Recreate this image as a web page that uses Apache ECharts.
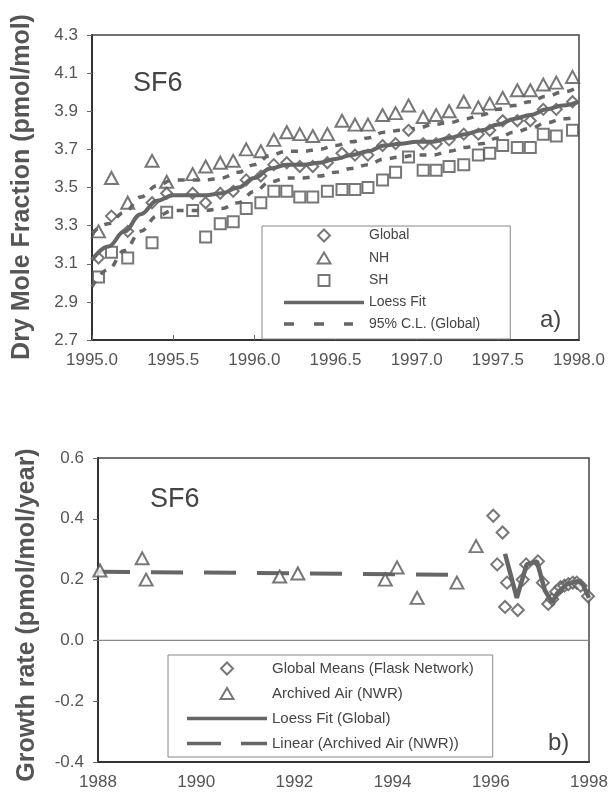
<!DOCTYPE html>
<html><head><meta charset="utf-8">
<script src="https://cdn.jsdelivr.net/npm/echarts@6/dist/echarts.min.js"></script>
<style>html,body{margin:0;padding:0;background:#fff}#c{width:614px;height:801px}</style>
</head><body><div id="c"></div>
<script>
// ---------- Panel a) SF6 dry mole fraction ----------
const monthsA = [1995.04, 1995.12, 1995.22, 1995.37, 1995.46, 1995.62, 1995.70, 1995.79, 1995.87, 1995.95,
  1996.04, 1996.12, 1996.20, 1996.28, 1996.36, 1996.45, 1996.54, 1996.62, 1996.70, 1996.79,
  1996.87, 1996.95, 1997.04, 1997.12, 1997.20, 1997.29, 1997.38, 1997.45, 1997.53, 1997.62,
  1997.70, 1997.78, 1997.86, 1997.96];
const globalA = [3.13, 3.35, 3.27, 3.42, 3.47, 3.47, 3.42, 3.47, 3.48, 3.54,
  3.56, 3.62, 3.63, 3.61, 3.61, 3.63, 3.68, 3.67, 3.67, 3.72,
  3.73, 3.80, 3.73, 3.73, 3.75, 3.78, 3.78, 3.80, 3.85, 3.85,
  3.85, 3.91, 3.91, 3.95];
const nhA = [3.27, 3.55, 3.42, 3.64, 3.53, 3.57, 3.61, 3.63, 3.64, 3.70,
  3.69, 3.75, 3.79, 3.78, 3.77, 3.78, 3.85, 3.83, 3.83, 3.88,
  3.89, 3.93, 3.87, 3.88, 3.90, 3.95, 3.92, 3.94, 3.97, 4.01,
  4.01, 4.04, 4.05, 4.08];
const shA = [3.03, 3.16, 3.13, 3.21, 3.37, 3.38, 3.24, 3.31, 3.32, 3.39,
  3.42, 3.48, 3.48, 3.45, 3.45, 3.48, 3.49, 3.49, 3.50, 3.54,
  3.58, 3.66, 3.59, 3.59, 3.61, 3.62, 3.67, 3.68, 3.72, 3.71,
  3.71, 3.78, 3.77, 3.80];
const loessTA = [1995.0, 1995.1, 1995.2, 1995.3, 1995.4, 1995.5, 1995.6, 1995.7, 1995.8, 1995.9,
  1996.0, 1996.1, 1996.2, 1996.3, 1996.4, 1996.5, 1996.6, 1996.7, 1996.8, 1996.9,
  1997.0, 1997.1, 1997.2, 1997.3, 1997.4, 1997.5, 1997.6, 1997.7, 1997.8, 1997.9, 1998.0];
const loessA = [3.12, 3.19, 3.27, 3.36, 3.43, 3.46, 3.46, 3.46, 3.47, 3.50,
  3.55, 3.60, 3.62, 3.62, 3.63, 3.65, 3.67, 3.69, 3.72, 3.73,
  3.74, 3.74, 3.76, 3.78, 3.80, 3.83, 3.86, 3.88, 3.91, 3.93, 3.95];
const clUpperA = [3.26, 3.31, 3.37, 3.45, 3.51, 3.54, 3.54, 3.54, 3.55, 3.58,
  3.62, 3.67, 3.69, 3.69, 3.70, 3.72, 3.74, 3.76, 3.79, 3.80,
  3.81, 3.83, 3.84, 3.86, 3.88, 3.91, 3.93, 3.95, 3.98, 4.00, 4.03];
const clLowerA = [2.98, 3.07, 3.17, 3.27, 3.35, 3.38, 3.38, 3.38, 3.39, 3.42,
  3.48, 3.53, 3.55, 3.55, 3.56, 3.58, 3.60, 3.62, 3.65, 3.66,
  3.67, 3.67, 3.69, 3.71, 3.73, 3.76, 3.79, 3.81, 3.84, 3.86, 3.87];
const yTicksA = [2.7, 2.9, 3.1, 3.3, 3.5, 3.7, 3.9, 4.1, 4.3];

// ---------- Panel b) SF6 growth rate ----------
const archT = [1988.04, 1988.90, 1988.98, 1991.70, 1992.07, 1993.85, 1994.09, 1994.50, 1995.31, 1995.70];
const archV = [0.23, 0.27, 0.20, 0.21, 0.22, 0.20, 0.24, 0.14, 0.19, 0.31];
const linearT = [1988.0, 1995.3];
const linearV = [0.226, 0.216];
const flaskT = [1996.05, 1996.13, 1996.24, 1996.29, 1996.33, 1996.55, 1996.65, 1996.72, 1996.96, 1997.06,
  1997.17, 1997.25, 1997.33, 1997.42, 1997.50, 1997.58, 1997.67, 1997.75, 1997.83, 1997.98];
const flaskV = [0.41, 0.25, 0.355, 0.11, 0.19, 0.10, 0.20, 0.25, 0.26, 0.19,
  0.12, 0.135, 0.16, 0.175, 0.18, 0.185, 0.19, 0.19, 0.18, 0.145];
const loessTB = [1996.29, 1996.53, 1996.73, 1996.94, 1997.10, 1997.25, 1997.35, 1997.55, 1997.77, 1997.87, 1998.0];
const loessB = [0.285, 0.14, 0.25, 0.26, 0.165, 0.125, 0.155, 0.185, 0.195, 0.185, 0.14];
const zeroLineT = [1988, 1998];
const zeroLineV = [0, 0];

const pair = (t, v) => t.map((x, i) => [x, v[i]]);
const FONT = 'Liberation Sans';
const INK = '#555';
const LINE = '#666';
const hollow = { color: '#fff', borderColor: INK, borderWidth: 2 };

// legend icons drawn in an 80 x 13 box (invisible move-to corners fix the box)
const BOX = 'M0,0M80,13';
const ICON = {
  diamond: 'path://' + BOX + 'M40,0.5L46,6.5L40,12.5L34,6.5Z',
  triangle: 'path://' + BOX + 'M40,1L46.5,12L33.5,12Z',
  square: 'path://' + BOX + 'M34.5,1L45.5,1L45.5,12L34.5,12Z',
  solid: 'path://' + BOX + 'M0,4.7L80,4.7L80,8.3L0,8.3Z',
  shortDash: 'path://' + BOX + 'M0,4.7L10,4.7L10,8.3L0,8.3ZM30,4.7L40,4.7L40,8.3L30,8.3ZM60,4.7L69,4.7L69,8.3L60,8.3Z',
  longDash: 'path://' + BOX + 'M0,4.7L34,4.7L34,8.3L0,8.3ZM54,4.7L80,4.7L80,8.3L54,8.3Z'
};
const hollowIcon = { color: '#fff', borderColor: INK, borderWidth: 2 };
const solidIcon = { color: LINE, borderWidth: 0 };

const chart = echarts.init(document.getElementById('c'), null, { renderer: 'canvas' });
const option = {
  animation: false,
  backgroundColor: '#fff',
  textStyle: { fontFamily: FONT },
  grid: [
    { left: 92, top: 35, width: 487, height: 305, show: true, borderColor: '#444', borderWidth: 1.5 },
    { left: 98, top: 458, width: 491, height: 304, show: true, borderColor: '#444', borderWidth: 1.5 }
  ],
  xAxis: [
    { gridIndex: 0, type: 'value', min: 1995, max: 1998, interval: 0.5, position: 'bottom',
      axisLine: { show: true, onZero: false, lineStyle: { color: '#333', width: 2 } },
      axisTick: { show: true, inside: true, length: 5, lineStyle: { color: '#666' } },
      axisLabel: { formatter: v => v.toFixed(1), color: INK, fontSize: 17, margin: 12, fontFamily: FONT },
      splitLine: { show: false } },
    { gridIndex: 1, type: 'value', min: 1988, max: 1998, interval: 2, position: 'bottom',
      axisLine: { show: true, onZero: false, lineStyle: { color: '#333', width: 2 } },
      axisTick: { show: false },
      axisLabel: { formatter: v => String(Math.round(v)), color: INK, fontSize: 17, margin: 12, fontFamily: FONT },
      splitLine: { show: false } }
  ],
  yAxis: [
    { gridIndex: 0, type: 'value', min: 2.7, max: 4.3,
      axisLine: { show: true, lineStyle: { color: '#333', width: 2 } },
      axisTick: { show: true, length: 5, customValues: yTicksA, lineStyle: { color: '#666' } },
      axisLabel: { customValues: yTicksA, formatter: v => v.toFixed(1), color: INK, fontSize: 17, margin: 14, fontFamily: FONT },
      splitLine: { show: false } },
    { gridIndex: 1, type: 'value', min: -0.4, max: 0.6, interval: 0.2,
      axisLine: { show: true, lineStyle: { color: '#333', width: 2 } },
      axisTick: { show: true, length: 5, lineStyle: { color: '#666' } },
      axisLabel: { formatter: v => (Math.abs(v) < 1e-9 ? 0 : v).toFixed(1), color: INK, fontSize: 17, margin: 14, fontFamily: FONT },
      splitLine: { show: false } }
  ],
  legend: [
    { left: 262, top: 226, orient: 'vertical', padding: [2, 30, 8, 21],
      itemWidth: 80, itemHeight: 13, itemGap: 7.5, borderColor: '#888', borderWidth: 1,
      backgroundColor: '#fff',
      textStyle: { fontSize: 14, color: '#444', fontFamily: FONT },
      data: [
        { name: 'Global', icon: ICON.diamond, itemStyle: hollowIcon },
        { name: 'NH', icon: ICON.triangle, itemStyle: hollowIcon },
        { name: 'SH', icon: ICON.square, itemStyle: hollowIcon },
        { name: 'Loess Fit', icon: ICON.solid, itemStyle: solidIcon },
        { name: '95% C.L. (Global)', icon: ICON.shortDash, itemStyle: solidIcon }
      ] },
    { left: 168, top: 655, orient: 'vertical', padding: [6, 19, 6, 18],
      itemWidth: 80, itemHeight: 13, itemGap: 10, borderColor: '#888', borderWidth: 1,
      backgroundColor: '#fff',
      textStyle: { fontSize: 15, color: '#444', fontFamily: FONT },
      data: [
        { name: 'Global Means (Flask Network)', icon: ICON.diamond, itemStyle: hollowIcon },
        { name: 'Archived Air (NWR)', icon: ICON.triangle, itemStyle: hollowIcon },
        { name: 'Loess Fit (Global)', icon: ICON.solid, itemStyle: solidIcon },
        { name: 'Linear (Archived Air (NWR))', icon: ICON.longDash, itemStyle: solidIcon }
      ] }
  ],
  series: [
    { name: 'NH', type: 'scatter', xAxisIndex: 0, yAxisIndex: 0, symbol: 'triangle', symbolSize: [13, 12],
      itemStyle: hollow, data: pair(monthsA, nhA), z: 3 },
    { name: 'SH', type: 'scatter', xAxisIndex: 0, yAxisIndex: 0, symbol: 'rect', symbolSize: 11,
      itemStyle: hollow, data: pair(monthsA, shA), z: 3 },
    { name: '95% C.L. (Global)', type: 'line', xAxisIndex: 0, yAxisIndex: 0, symbol: 'none', smooth: 0.4, smoothMonotone: 'x',
      itemStyle: { color: LINE }, lineStyle: { color: LINE, width: 3.5, type: [7, 8] }, data: pair(loessTA, clUpperA), z: 4 },
    { name: '95% C.L. (Global)', type: 'line', xAxisIndex: 0, yAxisIndex: 0, symbol: 'none', smooth: 0.4, smoothMonotone: 'x',
      itemStyle: { color: LINE }, lineStyle: { color: LINE, width: 3.5, type: [7, 8] }, data: pair(loessTA, clLowerA), z: 4 },
    { name: 'Global', type: 'scatter', xAxisIndex: 0, yAxisIndex: 0, symbol: 'diamond', symbolSize: 11,
      itemStyle: hollow, data: pair(monthsA, globalA), z: 5 },
    { name: 'Loess Fit', type: 'line', xAxisIndex: 0, yAxisIndex: 0, symbol: 'none', smooth: 0.4, smoothMonotone: 'x',
      itemStyle: { color: LINE }, lineStyle: { color: LINE, width: 4 }, data: pair(loessTA, loessA), z: 6 },

    { name: 'zero', type: 'line', xAxisIndex: 1, yAxisIndex: 1, symbol: 'none', silent: true,
      itemStyle: { color: '#888' }, lineStyle: { color: '#888', width: 1.2 }, data: pair(zeroLineT, zeroLineV), z: 2 },
    { name: 'Linear (Archived Air (NWR))', type: 'line', xAxisIndex: 1, yAxisIndex: 1, symbol: 'none',
      itemStyle: { color: LINE }, lineStyle: { color: LINE, width: 4, type: [32, 21] }, data: pair(linearT, linearV), z: 3 },
    { name: 'Archived Air (NWR)', type: 'scatter', xAxisIndex: 1, yAxisIndex: 1, symbol: 'triangle', symbolSize: [13, 12],
      itemStyle: hollow, data: pair(archT, archV), z: 4 },
    { name: 'Global Means (Flask Network)', type: 'scatter', xAxisIndex: 1, yAxisIndex: 1, symbol: 'diamond', symbolSize: 12,
      itemStyle: hollow, data: pair(flaskT, flaskV), z: 4 },
    { name: 'Loess Fit (Global)', type: 'line', xAxisIndex: 1, yAxisIndex: 1, symbol: 'none',
      itemStyle: { color: LINE }, lineStyle: { color: LINE, width: 4.5 }, data: pair(loessTB, loessB), z: 5 }
  ],
  graphic: [
    { type: 'text', left: 133, top: 70, style: { text: 'SF6', fontSize: 27, fill: '#444', fontFamily: FONT } },
    { type: 'text', left: 540, top: 308, style: { text: 'a)', fontSize: 24, fill: '#444', fontFamily: FONT } },
    { type: 'text', left: 150, top: 486, style: { text: 'SF6', fontSize: 27, fill: '#444', fontFamily: FONT } },
    { type: 'text', left: 548, top: 731, style: { text: 'b)', fontSize: 24, fill: '#444', fontFamily: FONT } },
    { type: 'text', x: 22, y: 187, rotation: Math.PI / 2,
      style: { text: 'Dry Mole Fraction (pmol/mol)', fontSize: 25, fontWeight: 'bold', fill: '#555', fontFamily: FONT,
               align: 'center', verticalAlign: 'middle' } },
    { type: 'text', x: 27, y: 615, rotation: Math.PI / 2,
      style: { text: 'Growth rate (pmol/mol/year)', fontSize: 25, fontWeight: 'bold', fill: '#555', fontFamily: FONT,
               align: 'center', verticalAlign: 'middle' } }
  ]
};
chart.setOption(option);
</script>
</body></html>
